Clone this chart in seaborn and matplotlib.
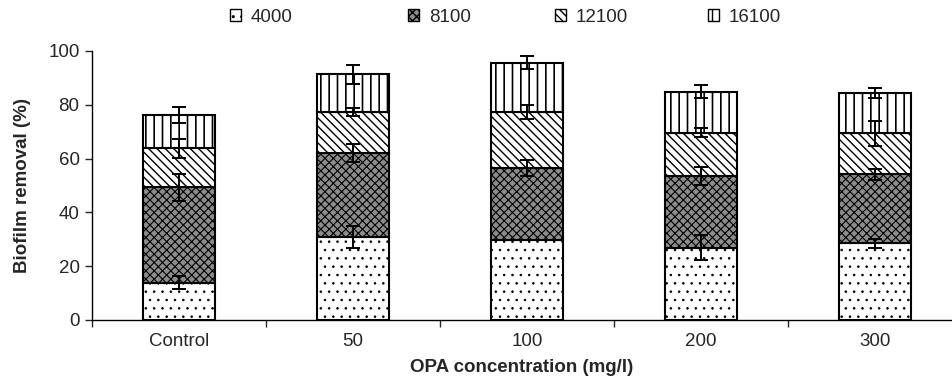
import numpy as np
import matplotlib
matplotlib.use('Agg')
import matplotlib.pyplot as plt
import seaborn as sns
from matplotlib.patches import Patch

# data (segment heights, % biofilm removal)
categories = ['Control', '50', '100', '200', '300']
series_names = ['4000', '8100', '12100', '16100']
v4000 = [13.8, 31.0, 29.7, 26.9, 28.5]
v8100 = [35.5, 31.2, 26.9, 26.6, 25.7]
v12100 = [14.5, 15.2, 20.8, 16.1, 15.2]
v16100 = [12.4, 13.9, 18.3, 15.3, 14.9]
# error bars (+/-) at the top of each segment
e4000 = [2.4, 4.1, 0.0, 4.6, 1.7]
e8100 = [5.0, 3.4, 3.0, 3.3, 2.0]
e12100 = [3.5, 1.5, 2.7, 1.7, 4.6]
e16100 = [3.1, 3.4, 2.3, 2.5, 1.8]

sns.set_style('ticks')
plt.rcParams['font.family'] = ['Liberation Sans', 'DejaVu Sans']

fig = plt.figure(figsize=(9.52, 3.87), dpi=100)
ax = fig.add_axes([92 / 952, 1 - 320 / 387, (952 - 92) / 952, (320 - 51) / 387])

values = [v4000, v8100, v12100, v16100]
errors = [e4000, e8100, e12100, e16100]
styles = [
    dict(color='white', hatch='..', hlw=0.6),
    dict(color='#8c8c8c', hatch='xxxx', hlw=0.8),
    dict(color='white', hatch='\\\\\\\\', hlw=1.0),
    dict(color='white', hatch='||', hlw=1.2),
]

bottom = np.zeros(len(categories))
tops = []
for vals, st in zip(values, styles):
    with plt.rc_context({'hatch.linewidth': st['hlw']}):
        sns.barplot(x=categories, y=vals, bottom=bottom, ax=ax, width=0.41,
                    color=st['color'], hatch=st['hatch'], edgecolor='black',
                    linewidth=1.5, saturation=1, errorbar=None)
    bottom = bottom + np.array(vals)
    tops.append(bottom.copy())

pos = np.arange(len(categories))
for top, err in zip(tops, errors):
    ax.errorbar(pos, top, yerr=err, fmt='none', ecolor='black',
                elinewidth=1.4, capsize=5, capthick=1.4, zorder=5)

ax.set_ylim(0, 100)
ax.set_xlim(-0.5, -0.5 + (952 - 92) / 174)
ax.set_yticks(range(0, 101, 20))
ax.set_xticks(pos)
ax.set_xticklabels(categories)
ax.set_xticks(np.arange(-0.5, len(categories) - 0.5, 1), minor=True)
ax.tick_params(axis='x', which='major', length=0, pad=9, labelsize=13.5)
ax.tick_params(axis='x', which='minor', length=5, width=1, direction='out')
ax.tick_params(axis='y', length=5, width=1, direction='out', labelsize=13.5, pad=4)

for side in ['top', 'right']:
    ax.spines[side].set_visible(False)
for side in ['left', 'bottom']:
    ax.spines[side].set_color('black')
    ax.spines[side].set_linewidth(1)

ax.set_xlabel('OPA concentration (mg/l)', fontsize=13.5, fontweight='bold', labelpad=7)
ax.set_ylabel('Biofilm removal (%)', fontsize=13.5, fontweight='bold', labelpad=12)

# legend entries placed like the original (uneven spacing)
legend_x = [230, 408, 555, 708]
for st, name, lx in zip(styles, series_names, legend_x):
    with plt.rc_context({'hatch.linewidth': st['hlw']}):
        h = Patch(facecolor=st['color'], edgecolor='black', hatch=st['hatch'],
                  linewidth=1, label=name)
    fig.legend(handles=[h], loc='center left', bbox_to_anchor=(lx / 952, 0.955),
               frameon=False, fontsize=13.5, handlelength=0.6, handleheight=0.6,
               handletextpad=0.5, borderpad=0, borderaxespad=0)

fig.savefig('out.png', dpi=100)
